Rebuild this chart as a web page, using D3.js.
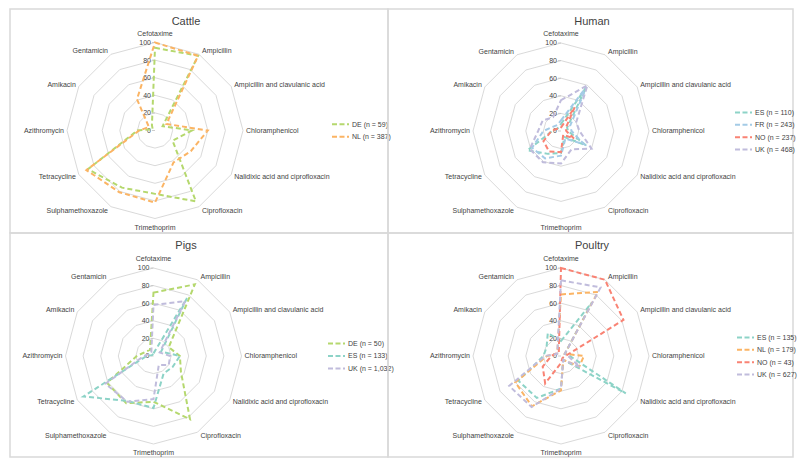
<!DOCTYPE html>
<html>
<head>
<meta charset="utf-8">
<script src="https://cdn.jsdelivr.net/npm/d3@7/dist/d3.min.js"></script>
<style>
  body { margin: 0; background: #fff; }
  text { font-family: "Liberation Sans Narrow", "Liberation Sans", Arial, sans-serif; fill: #3f3f3f; }
</style>
</head>
<body>
<svg id="chart" width="800" height="469"></svg>
<script>
// axes of every radar, clockwise from the top
const antibiotics = [
  'Cefotaxime', 'Ampicillin', 'Ampicillin and clavulanic acid', 'Chloramphenicol',
  'Nalidixic acid and ciprofloxacin', 'Ciprofloxacin', 'Trimethoprim', 'Sulphamethoxazole',
  'Tetracycline', 'Azithromycin', 'Amikacin', 'Gentamicin'
];
const tickValues = [0, 20, 40, 60, 80, 100];

// % resistant, same order as antibiotics
const cattleLabels = ['DE (n = 59)', 'NL (n = 387)'];
const cattleDE = [94, 98, 10, 42, 23, 93, 72, 75, 88, 20, 3, 7];
const cattleNL = [100, 98, 15, 60, 47, 42, 82, 81, 90, 18, 8, 41];

const humanLabels = ['ES (n = 110)', 'FR (n = 243)', 'NO (n = 237)', 'UK (n = 468)'];
const humanES = [8, 58, 8, 8, 33, 8, 25, 30, 44, 10, 5, 5];
const humanFR = [12, 58, 12, 12, 30, 10, 28, 36, 38, 20, 10, 8];
const humanNO = [4, 31, 6, 6, 17, 5, 24, 27, 23, 11, 5, 3];
const humanUK = [35, 60, 20, 21, 40, 24, 37, 41, 41, 26, 24, 18];

const pigsLabels = ['DE (n = 50)', 'ES (n = 133)', 'UK (n = 1,032)'];
const pigsDE = [72, 94, 20, 30, 36, 83, 52, 62, 61, 19, 10, 8];
const pigsES = [3, 76, 10, 30, 25, 23, 59, 59, 92, 8, 2, 2];
const pigsUK = [58, 72, 8, 19, 20, 12, 49, 60, 63, 11, 5, 5];

const poultryLabels = ['ES (n = 135)', 'NL (n = 179)', 'NO (n = 43)', 'UK (n = 627)'];
const poultryES = [17, 70, 5, 10, 85, 5, 37, 55, 56, 20, 19, 30];
const poultryNL = [70, 84, 5, 26, 24, 5, 39, 66, 60, 16, 5, 8];
const poultryNO = [100, 100, 82, 5, 3, 3, 8, 36, 24, 11, 6, 5];
const poultryUK = [86, 90, 5, 8, 25, 5, 37, 67, 68, 18, 5, 8];

const green = '#b5d86e';
const orange = '#fbb464';
const teal = '#8dd3c7';
const blue = '#a4cbe6';
const red = '#f98374';
const lavender = '#c0bcdc';

const panels = [
  { title: 'Cattle', x: 10, y: 9, w: 378, h: 224, cx: 145, cy: 121.5, titleX: 176, legendX: 322,
    labels: cattleLabels, series: [cattleDE, cattleNL], colors: [green, orange] },
  { title: 'Human', x: 388, y: 9, w: 405, h: 224, cx: 173, cy: 122, titleX: 204, legendX: 347,
    labels: humanLabels, series: [humanES, humanFR, humanNO, humanUK], colors: [teal, blue, red, lavender] },
  { title: 'Pigs', x: 10, y: 233, w: 378, h: 224, cx: 143.5, cy: 123, titleX: 176, legendX: 318,
    labels: pigsLabels, series: [pigsDE, pigsES, pigsUK], colors: [green, teal, lavender] },
  { title: 'Poultry', x: 388, y: 233, w: 405, h: 224, cx: 173, cy: 123, titleX: 204, legendX: 349,
    labels: poultryLabels, series: [poultryES, poultryNL, poultryNO, poultryUK], colors: [teal, orange, red, lavender] }
];

const R = 88;
const svg = d3.select('#chart');

const rScale = d3.scaleLinear().domain([0, 100]).range([0, R]);
const angle = d3.scaleLinear().domain([0, antibiotics.length]).range([0, 2 * Math.PI]);

const radar = d3.lineRadial()
  .angle((d, i) => angle(i))
  .radius(d => rScale(d))
  .curve(d3.curveLinearClosed);

panels.forEach(p => {
  const g = svg.append('g').attr('transform', `translate(${p.x},${p.y})`);

  g.append('rect')
    .attr('x', 0).attr('y', 0)
    .attr('width', p.w).attr('height', p.h)
    .attr('fill', 'none')
    .attr('stroke', '#d9d9d9')
    .attr('stroke-width', 1.5);

  g.append('text')
    .attr('x', p.titleX).attr('y', 12)
    .attr('dy', '0.35em')
    .attr('text-anchor', 'middle')
    .style('font-size', '11px')
    .text(p.title);

  const plot = g.append('g').attr('transform', `translate(${p.cx},${p.cy})`);

  // grid rings
  plot.selectAll('.ring')
    .data(tickValues.slice(1))
    .enter()
    .append('path')
    .attr('class', 'ring')
    .attr('d', v => radar(antibiotics.map(() => v)))
    .attr('fill', 'none')
    .attr('stroke', '#cfcfcf')
    .attr('stroke-width', 0.8);

  // value axis ticks + labels
  plot.selectAll('.tick')
    .data(tickValues)
    .enter()
    .append('line')
    .attr('x1', -3).attr('x2', 0)
    .attr('y1', v => -rScale(v)).attr('y2', v => -rScale(v))
    .attr('stroke', '#bfbfbf')
    .attr('stroke-width', 0.8);

  plot.selectAll('.tick-label')
    .data(tickValues)
    .enter()
    .append('text')
    .attr('x', -4)
    .attr('y', v => -rScale(v))
    .attr('dy', '0.35em')
    .attr('text-anchor', 'end')
    .style('font-size', '7px')
    .text(v => v);

  // category labels
  plot.selectAll('.axis-label')
    .data(antibiotics)
    .enter()
    .append('text')
    .attr('x', (d, i) => {
      const s = Math.sin(angle(i));
      const x = R * s;
      return Math.abs(s) < 0.01 ? x : x + 3 * Math.sign(s);
    })
    .attr('y', (d, i) => {
      const c = Math.cos(angle(i));
      const y = -R * c;
      if (Math.abs(c) > 0.99) return y - 9 * c;
      return y - 4 * c;
    })
    .attr('dy', '0.35em')
    .attr('text-anchor', (d, i) => {
      const s = Math.sin(angle(i));
      if (Math.abs(s) < 0.01) return 'middle';
      return s > 0 ? 'start' : 'end';
    })
    .style('font-size', '7px')
    .text(d => d);

  // series
  plot.selectAll('.series')
    .data(p.series)
    .enter()
    .append('path')
    .attr('class', 'series')
    .attr('d', d => radar(d))
    .attr('fill', 'none')
    .attr('stroke', (d, i) => p.colors[i])
    .attr('stroke-width', 2)
    .attr('stroke-dasharray', '5,3');

  // legend
  const step = 12.4;
  const top = p.cy - (p.labels.length - 1) * step / 2;
  const leg = g.selectAll('.legend')
    .data(p.labels)
    .enter()
    .append('g')
    .attr('transform', (d, i) => `translate(${p.legendX},${top + i * step})`);

  leg.append('line')
    .attr('x1', 0).attr('x2', 17)
    .attr('stroke', (d, i) => p.colors[i])
    .attr('stroke-width', 2)
    .attr('stroke-dasharray', '5,2.5');

  leg.append('text')
    .attr('x', 20)
    .attr('dy', '0.35em')
    .style('font-size', '7px')
    .text(d => d);
});
</script>
</body>
</html>
